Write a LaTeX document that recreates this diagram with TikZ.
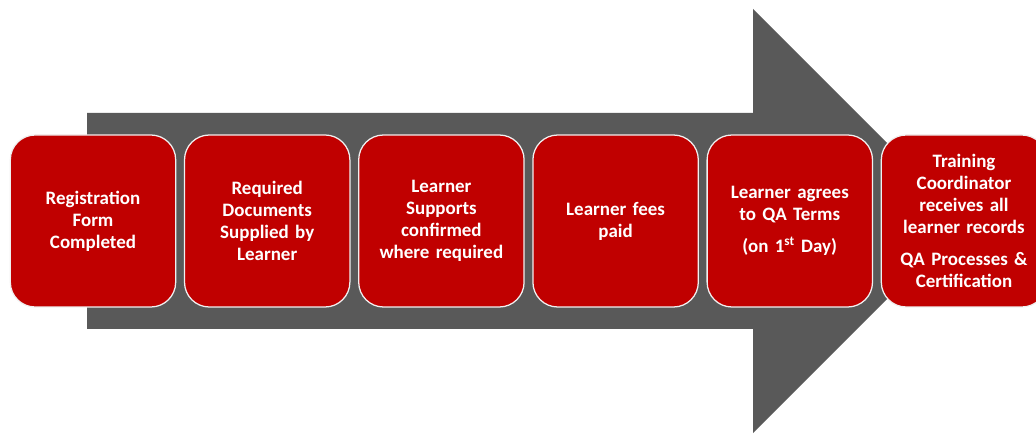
\documentclass[tikz,border=0pt]{standalone}
\usepackage{fontspec}
\setmainfont[WordSpace=0.8]{Carlito}
\usepackage{tikz}
\usetikzlibrary{positioning}
\definecolor{qared}{RGB}{192,0,0}
\definecolor{arrowgray}{RGB}{89,89,89}
\tikzstyle{stage} = [rectangle, rounded corners=0.62cm, minimum width=4.12cm, minimum height=4.3cm, text width=3.9cm, align=center, draw=white!88!gray, line width=0.9pt, fill=qared, text=white, font=\fontsize{13.5}{15.6}\selectfont\bfseries]

\begin{document}
\begin{tikzpicture}[]
    \useasboundingbox (0,0) rectangle (25.9,10.825);
    \clip (0,0) rectangle (25.9,10.825);
    % big grey arrow behind the stages
    \fill[arrowgray] (2.175,2.6) -- (2.175,8.0) -- (18.825,8.0) -- (18.825,10.6)
        -- (24.125,5.3) -- (18.825,0) -- (18.825,2.6) -- cycle;

    \node[stage] (reg) at (2.325,5.3) {Registration\\Form\\Completed};
    \node[stage] (docs) at (6.68,5.3) {Required\\Documents\\Supplied by\\Learner};
    \node[stage] (supp) at (11.035,5.3) {Learner\\Supports\\confirmed\\where required};
    \node[stage] (fees) at (15.39,5.3) {Learner fees\\paid};
    \node[stage] (terms) at (19.745,5.3) {Learner agrees\\to QA Terms\\[7pt](on 1\textsuperscript{st} Day)};
    \node[stage] (cert) at (24.1,5.3) {Training\\Coordinator\\receives all\\learner records\\[7pt]QA Processes \&\\Certification};

\end{tikzpicture}
\end{document}
